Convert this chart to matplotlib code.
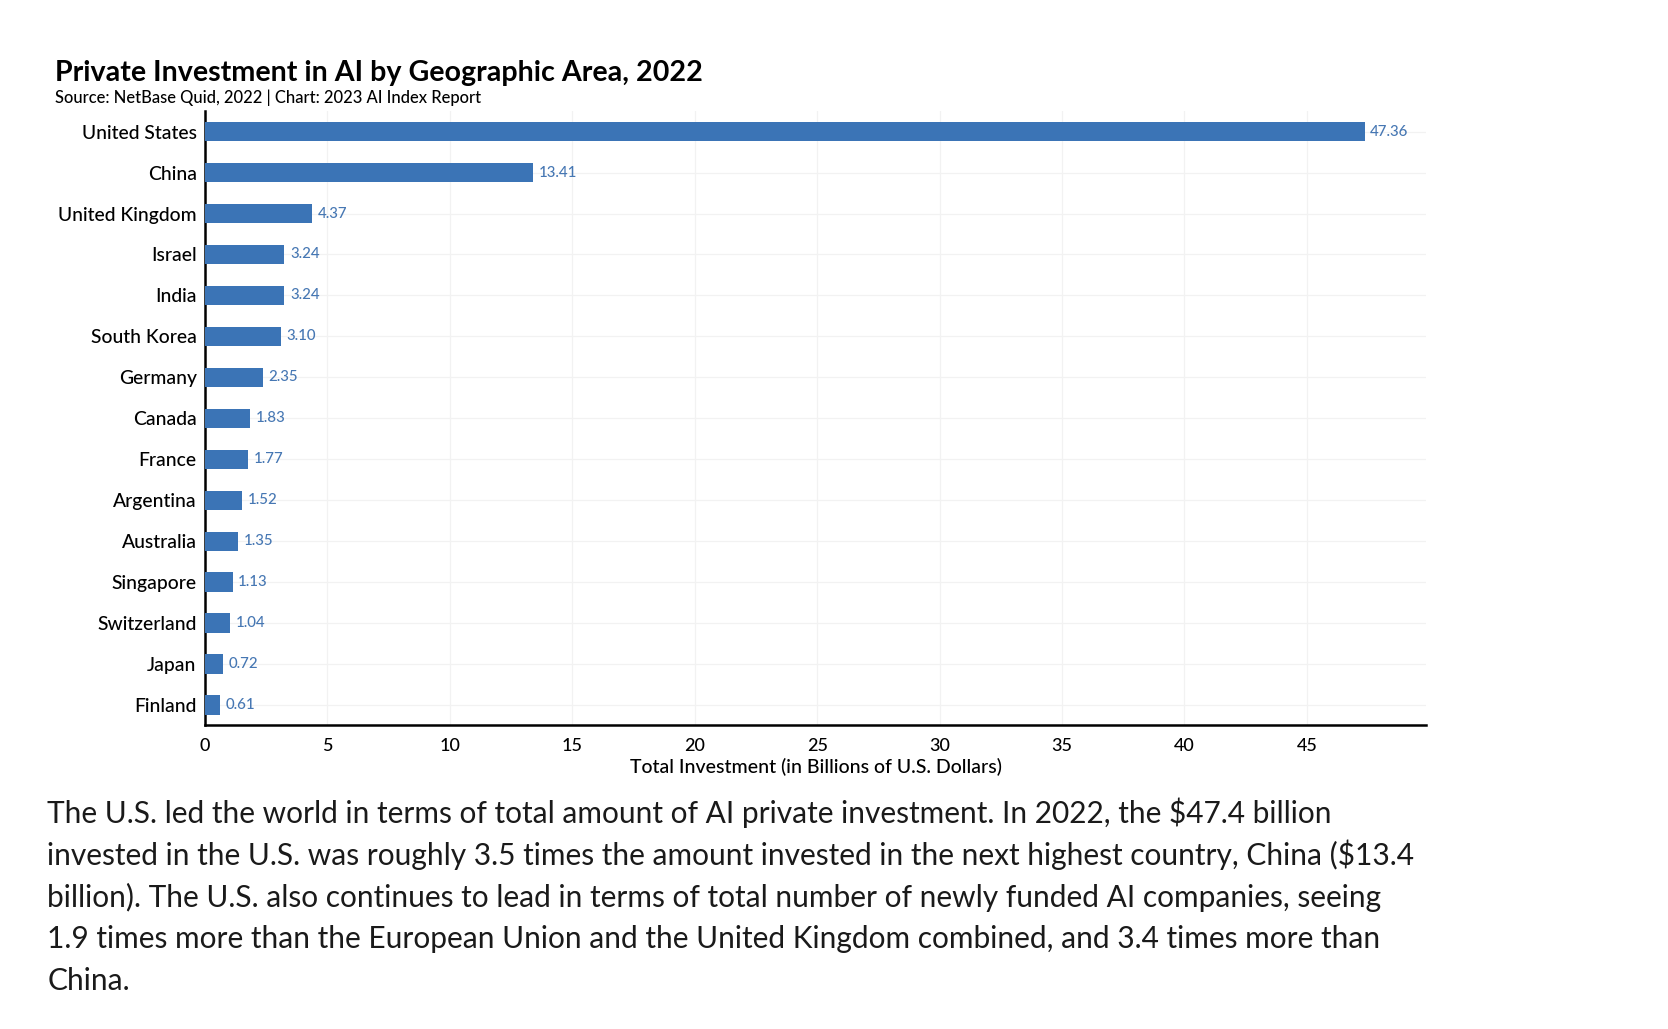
import matplotlib.pyplot as plt

# data
countries = ["United States", "China", "United Kingdom", "Israel", "India",
             "South Korea", "Germany", "Canada", "France", "Argentina",
             "Australia", "Singapore", "Switzerland", "Japan", "Finland"]
investment = [47.36, 13.41, 4.37, 3.24, 3.24, 3.10, 2.35, 1.83, 1.77, 1.52,
              1.35, 1.13, 1.04, 0.72, 0.61]
xticks = [0, 5, 10, 15, 20, 25, 30, 35, 40, 45]

title = "Private Investment in AI by Geographic Area, 2022"
subtitle = "Source: NetBase Quid, 2022 | Chart: 2023 AI Index Report"
xlabel = "Total Investment (in Billions of U.S. Dollars)"
caption_lines = [
    "The U.S. led the world in terms of total amount of AI private investment. In 2022, the $47.4 billion",
    "invested in the U.S. was roughly 3.5 times the amount invested in the next highest country, China ($13.4",
    "billion). The U.S. also continues to lead in terms of total number of newly funded AI companies, seeing",
    "1.9 times more than the European Union and the United Kingdom combined, and 3.4 times more than",
    "China.",
]

bar_color = "#3b74b6"
label_color = "#4677b3"
chart_font = "Lato"
caption_font = "Lato"

fig = plt.figure(figsize=(16.68, 10.29), dpi=100)
ax = fig.add_axes([0.1229, 0.295, 0.855 - 0.1229, 0.892 - 0.295])

ypos = list(range(len(countries)))
ax.barh(ypos, investment, height=0.47, color=bar_color, zorder=3)
for y, v in zip(ypos, investment):
    ax.annotate(f"{v:.2f}", (v, y), xytext=(4, 0), textcoords="offset points",
                va="center", ha="left", fontsize=10.8, color=label_color,
                family=chart_font, fontweight="medium")

ax.set_ylim(len(countries) - 0.5, -0.5)
ax.set_xlim(0, 49.87)
ax.set_yticks(ypos)
ax.set_yticklabels(countries, fontsize=13.9, family=chart_font,
                   fontweight="medium")
ax.set_xticks(xticks)
ax.set_xticklabels([str(t) for t in xticks], fontsize=13, family=chart_font,
                   fontweight="medium")
ax.tick_params(length=0, pad=6)
ax.tick_params(axis="x", pad=9)
ax.grid(True, color="#f2f2f2", linewidth=0.9, zorder=0)
for s in ["top", "right"]:
    ax.spines[s].set_visible(False)
for s in ["left", "bottom"]:
    ax.spines[s].set_linewidth(1.8)
    ax.spines[s].set_color("black")
ax.set_xlabel(xlabel, fontsize=14, family=chart_font, labelpad=3,
              fontweight="medium")

fig.text(0.033, 0.929, title, fontsize=20.6, fontweight="bold",
         family=chart_font, va="center", ha="left")
fig.text(0.033, 0.905, subtitle, fontsize=11.9, family=chart_font,
         va="center", ha="left", fontweight="medium")

y0 = 1 - 813 / 1029
dy = 42 / 1029
for i, line in enumerate(caption_lines):
    fig.text(0.0283, y0 - i * dy, line, fontsize=21.5, family=caption_font,
             va="center", ha="left", color="#1a1a1a")

fig.savefig("out.png", dpi=100)
